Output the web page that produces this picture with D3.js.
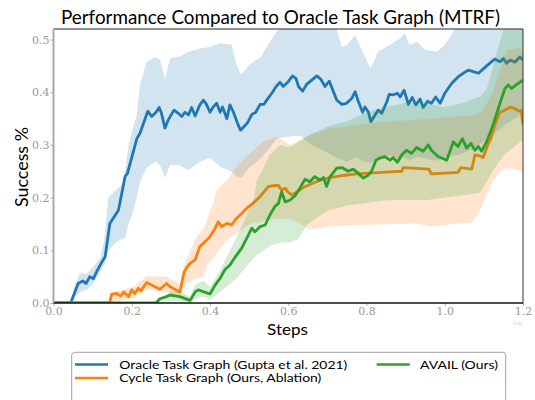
<!DOCTYPE html>
<html>
<head>
<meta charset="utf-8">
<script src="https://d3js.org/d3.v7.min.js"></script>
<style>
	body { margin: 0; background: #fff; }
	svg { display: block; }
</style>
</head>
<body>
<script>

/* values: x in steps (x1e6), y success rate */
const xTicks = [0.0, 0.2, 0.4, 0.6, 0.8, 1.0, 1.2];
const yTicks = [0.0, 0.1, 0.2, 0.3, 0.4, 0.5];

const seriesNames = ["Oracle Task Graph (Gupta et al. 2021)", "Cycle Task Graph (Ours, Ablation)", "AVAIL (Ours)"];
const seriesColors = ["#1f77b4", "#ff7f0e", "#2ca02c"];

// [x, mean]
const oracleMean = [[0,0],[0.044,0],[0.063,0.037],[0.075,0.042],[0.083,0.037],[0.093,0.050],[0.102,0.046],[0.110,0.059],[0.123,0.077],[0.132,0.088],[0.144,0.151],[0.166,0.176],[0.183,0.240],[0.189,0.246],[0.213,0.312],[0.221,0.322],[0.241,0.364],[0.251,0.354],[0.262,0.362],[0.270,0.371],[0.276,0.360],[0.285,0.332],[0.293,0.347],[0.308,0.366],[0.319,0.360],[0.328,0.354],[0.336,0.362],[0.345,0.357],[0.353,0.371],[0.362,0.355],[0.374,0.376],[0.383,0.385],[0.391,0.377],[0.400,0.362],[0.408,0.372],[0.417,0.379],[0.426,0.362],[0.432,0.372],[0.443,0.350],[0.451,0.376],[0.460,0.362],[0.472,0.338],[0.478,0.328],[0.487,0.335],[0.495,0.341],[0.507,0.358],[0.517,0.362],[0.528,0.377],[0.538,0.377],[0.545,0.385],[0.558,0.398],[0.569,0.411],[0.579,0.419],[0.587,0.411],[0.600,0.420],[0.611,0.431],[0.620,0.426],[0.626,0.411],[0.637,0.402],[0.647,0.415],[0.660,0.423],[0.673,0.431],[0.683,0.425],[0.694,0.411],[0.705,0.421],[0.714,0.404],[0.724,0.385],[0.737,0.377],[0.749,0.379],[0.762,0.388],[0.771,0.401],[0.779,0.383],[0.790,0.362],[0.796,0.372],[0.805,0.362],[0.811,0.344],[0.822,0.357],[0.830,0.366],[0.839,0.360],[0.852,0.382],[0.858,0.396],[0.868,0.395],[0.879,0.398],[0.886,0.391],[0.896,0.404],[0.907,0.377],[0.917,0.390],[0.926,0.376],[0.937,0.387],[0.945,0.371],[0.956,0.383],[0.966,0.379],[0.977,0.391],[0.988,0.379],[1.000,0.398],[1.018,0.417],[1.034,0.429],[1.047,0.436],[1.060,0.442],[1.073,0.439],[1.086,0.436],[1.107,0.450],[1.128,0.463],[1.141,0.458],[1.150,0.464],[1.158,0.455],[1.167,0.461],[1.179,0.457],[1.192,0.467],[1.200,0.461]];

const cycleMean = [[0,0],[0.143,0],[0.149,0.017],[0.161,0.018],[0.172,0.013],[0.180,0.021],[0.192,0.012],[0.200,0.025],[0.208,0.018],[0.217,0.028],[0.223,0.023],[0.238,0.039],[0.272,0.026],[0.289,0.037],[0.298,0.031],[0.323,0.021],[0.334,0.059],[0.342,0.069],[0.349,0.075],[0.362,0.082],[0.374,0.107],[0.387,0.116],[0.400,0.126],[0.413,0.142],[0.421,0.154],[0.430,0.145],[0.443,0.151],[0.455,0.148],[0.468,0.161],[0.481,0.170],[0.494,0.180],[0.511,0.190],[0.528,0.202],[0.549,0.221],[0.566,0.223],[0.575,0.223],[0.583,0.214],[0.592,0.218],[0.600,0.210],[0.609,0.205],[0.622,0.211],[0.638,0.219],[0.655,0.225],[0.681,0.233],[0.707,0.238],[0.741,0.242],[0.775,0.245],[0.817,0.247],[0.860,0.249],[0.890,0.250],[0.894,0.257],[0.960,0.254],[0.965,0.245],[1.034,0.248],[1.041,0.257],[1.069,0.254],[1.077,0.281],[1.090,0.279],[1.098,0.276],[1.110,0.300],[1.118,0.312],[1.128,0.338],[1.141,0.362],[1.154,0.366],[1.167,0.372],[1.179,0.369],[1.190,0.364],[1.195,0.366],[1.200,0.338]];

const availMean = [[0,0],[0.262,0],[0.272,0.008],[0.289,0.012],[0.298,0.015],[0.323,0.012],[0.349,0.005],[0.362,0.021],[0.370,0.025],[0.400,0.017],[0.413,0.034],[0.426,0.047],[0.438,0.063],[0.451,0.072],[0.468,0.091],[0.481,0.104],[0.494,0.123],[0.507,0.142],[0.515,0.135],[0.528,0.145],[0.541,0.148],[0.553,0.167],[0.566,0.183],[0.575,0.189],[0.583,0.211],[0.592,0.192],[0.604,0.195],[0.617,0.203],[0.630,0.218],[0.643,0.235],[0.655,0.230],[0.668,0.240],[0.681,0.233],[0.690,0.238],[0.698,0.221],[0.707,0.240],[0.724,0.256],[0.737,0.257],[0.753,0.250],[0.766,0.254],[0.779,0.246],[0.792,0.237],[0.805,0.243],[0.813,0.250],[0.824,0.271],[0.834,0.275],[0.847,0.278],[0.860,0.271],[0.868,0.276],[0.879,0.267],[0.890,0.281],[0.902,0.290],[0.915,0.284],[0.928,0.295],[0.945,0.288],[0.958,0.300],[0.966,0.290],[0.983,0.278],[1.005,0.271],[1.022,0.306],[1.034,0.297],[1.045,0.312],[1.056,0.294],[1.067,0.303],[1.077,0.290],[1.086,0.297],[1.094,0.288],[1.107,0.306],[1.120,0.331],[1.133,0.360],[1.145,0.388],[1.154,0.407],[1.162,0.414],[1.171,0.407],[1.184,0.415],[1.192,0.419],[1.200,0.423]];

// [x, lower, upper] shaded spread
const oracleBand = [[0.044,0,0],[0.055,0.012,0.035],[0.068,0.021,0.057],[0.085,0.025,0.055],[0.100,0.035,0.068],[0.120,0.060,0.085],[0.130,0.072,0.123],[0.140,0.100,0.200],[0.160,0.115,0.215],[0.172,0.120,0.222],[0.183,0.123,0.249],[0.192,0.150,0.300],[0.202,0.170,0.330],[0.213,0.200,0.357],[0.221,0.230,0.414],[0.238,0.256,0.458],[0.260,0.268,0.467],[0.272,0.262,0.462],[0.285,0.237,0.426],[0.298,0.262,0.465],[0.320,0.262,0.467],[0.345,0.252,0.477],[0.374,0.268,0.483],[0.400,0.275,0.486],[0.426,0.259,0.493],[0.455,0.249,0.490],[0.468,0.240,0.452],[0.480,0.237,0.433],[0.500,0.256,0.452],[0.530,0.275,0.467],[0.553,0.294,0.496],[0.570,0.312,0.515],[0.605,0.316,0.535],[0.630,0.318,0.550],[0.660,0.300,0.550],[0.700,0.285,0.545],[0.724,0.275,0.518],[0.737,0.272,0.486],[0.750,0.268,0.490],[0.771,0.276,0.508],[0.790,0.270,0.477],[0.810,0.265,0.445],[0.830,0.277,0.477],[0.860,0.280,0.490],[0.886,0.272,0.502],[0.898,0.276,0.512],[0.910,0.270,0.490],[0.930,0.278,0.496],[0.950,0.274,0.480],[0.980,0.270,0.477],[1.000,0.276,0.490],[1.020,0.280,0.512],[1.040,0.282,0.540],[1.070,0.292,0.550],[1.107,0.310,0.555],[1.158,0.340,0.560],[1.200,0.360,0.560]];

const cycleBand = [[0.143,0,0.010],[0.150,0,0.020],[0.204,0.010,0.031],[0.238,0.026,0.051],[0.289,0.021,0.050],[0.323,0.010,0.037],[0.334,0.030,0.070],[0.340,0.037,0.082],[0.366,0.047,0.126],[0.383,0.050,0.140],[0.392,0.070,0.158],[0.408,0.085,0.190],[0.417,0.094,0.214],[0.443,0.120,0.233],[0.468,0.132,0.259],[0.502,0.150,0.284],[0.536,0.155,0.306],[0.570,0.160,0.316],[0.604,0.160,0.300],[0.630,0.150,0.309],[0.655,0.139,0.318],[0.707,0.145,0.331],[0.775,0.148,0.338],[0.834,0.149,0.344],[0.930,0.151,0.348],[0.962,0.145,0.350],[1.070,0.153,0.356],[1.082,0.164,0.358],[1.095,0.185,0.365],[1.124,0.233,0.400],[1.141,0.250,0.440],[1.158,0.256,0.480],[1.190,0.252,0.484],[1.200,0.249,0.480]];

const availBand = [[0.262,0,0.004],[0.300,0.004,0.022],[0.323,0.003,0.022],[0.349,0,0.012],[0.362,0.008,0.035],[0.383,0.012,0.042],[0.400,0.006,0.030],[0.426,0.021,0.062],[0.468,0.047,0.125],[0.494,0.070,0.167],[0.511,0.085,0.195],[0.519,0.090,0.230],[0.553,0.108,0.281],[0.579,0.115,0.300],[0.604,0.115,0.295],[0.626,0.122,0.305],[0.650,0.150,0.318],[0.700,0.175,0.335],[0.750,0.185,0.345],[0.800,0.190,0.362],[0.850,0.195,0.372],[0.900,0.195,0.380],[0.950,0.195,0.378],[1.000,0.200,0.372],[1.050,0.205,0.380],[1.090,0.209,0.392],[1.107,0.230,0.405],[1.124,0.252,0.450],[1.150,0.280,0.520],[1.200,0.310,0.560]];


const WIDTH = 535, HEIGHT = 400;
const plot = { left: 53.5, right: 523, top: 29, bottom: 303 };
const SANS = "Lato, 'DejaVu Sans', sans-serif";
const SERIF = "'DejaVu Serif', serif";

const svg = d3.select('body').append('svg')
	.attr('width', WIDTH)
	.attr('height', HEIGHT)
	.attr('viewBox', `0 0 ${WIDTH} ${HEIGHT}`);

/* scales */
const x = d3.scaleLinear().domain([0, 1.2]).range([plot.left, plot.right]);
const y = d3.scaleLinear().domain([0, 0.52]).range([plot.bottom, plot.top]);

svg.append('clipPath').attr('id', 'plotClip')
	.append('rect')
	.attr('x', plot.left).attr('y', plot.top)
	.attr('width', plot.right - plot.left)
	.attr('height', plot.bottom - plot.top);

const series = [
	{ mean: oracleMean, band: oracleBand },
	{ mean: cycleMean, band: cycleBand },
	{ mean: availMean, band: availBand }
];

const area = d3.area()
	.x(d => x(d[0]))
	.y0(d => y(d[1]))
	.y1(d => y(d[2]));

const line = d3.line()
	.x(d => x(d[0]))
	.y(d => y(d[1]));

const marks = svg.append('g').attr('clip-path', 'url(#plotClip)');

// band then line, one series after the other (matplotlib call order)
series.forEach((s, i) => {
	marks.append('path')
		.attr('d', area(s.band))
		.attr('fill', seriesColors[i])
		.attr('fill-opacity', 0.2);
	marks.append('path')
		.attr('d', line(s.mean))
		.attr('fill', 'none')
		.attr('stroke', seriesColors[i])
		.attr('stroke-width', 2.8)
		.attr('stroke-linejoin', 'round');
});

/* axes */
const yAxis = svg.append('g')
	.attr('transform', `translate(${plot.left},0)`)
	.call(d3.axisLeft(y).tickValues(yTicks).tickFormat(d3.format('.1f')).tickSize(3).tickPadding(1));

const xAxis = svg.append('g')
	.attr('transform', `translate(0,${plot.bottom})`)
	.call(d3.axisBottom(x).tickValues(xTicks).tickFormat(d3.format('.1f')).tickSize(3).tickPadding(1));

[xAxis, yAxis].forEach(ax => {
	ax.select('.domain').remove();
	ax.selectAll('line').attr('stroke', '#aaa');
	ax.selectAll('text')
		.attr('fill', '#999')
		.style('font-family', SERIF)
		.style('font-size', '11px');
});

/* spines */
const spines = svg.append('g');
spines.append('line')
	.attr('x1', plot.left).attr('x2', plot.right)
	.attr('y1', plot.top).attr('y2', plot.top)
	.attr('stroke', '#222').attr('stroke-width', 1);
spines.append('line')
	.attr('x1', plot.right).attr('x2', plot.right)
	.attr('y1', plot.top).attr('y2', plot.bottom)
	.attr('stroke', '#333').attr('stroke-width', 1);
spines.append('line')
	.attr('x1', plot.left).attr('x2', plot.right)
	.attr('y1', plot.bottom).attr('y2', plot.bottom)
	.attr('stroke', '#111').attr('stroke-width', 1.3);
spines.append('line')
	.attr('x1', plot.left).attr('x2', plot.left)
	.attr('y1', plot.top).attr('y2', plot.bottom)
	.attr('stroke', '#aaa').attr('stroke-width', 2);

/* offset label of the x axis */
svg.append('text')
	.attr('x', 522).attr('y', 325)
	.attr('text-anchor', 'end')
	.attr('fill', '#ccc')
	.style('font-family', SERIF)
	.style('font-size', '5px')
	.text('1e6');

/* titles */
svg.append('text')
	.attr('x', 280.5).attr('y', 24)
	.attr('text-anchor', 'middle')
	.attr('textLength', 439).attr('lengthAdjust', 'spacingAndGlyphs')
	.style('font-family', SANS).style('font-size', '19px')
	.attr('fill', '#000')
	.text('Performance Compared to Oracle Task Graph (MTRF)');

svg.append('text')
	.attr('x', 287.5).attr('y', 334.5)
	.attr('text-anchor', 'middle')
	.attr('textLength', 41).attr('lengthAdjust', 'spacingAndGlyphs')
	.style('font-family', SANS).style('font-size', '16px')
	.text('Steps');

svg.append('text')
	.attr('transform', 'translate(28,167) rotate(-90)')
	.attr('text-anchor', 'middle')
	.attr('textLength', 80).attr('lengthAdjust', 'spacingAndGlyphs')
	.style('font-family', SANS).style('font-size', '17px')
	.text('Success %');

/* legend */
const legend = svg.append('g');
legend.append('rect')
	.attr('x', 71.7).attr('y', 352.3)
	.attr('width', 434).attr('height', 60)
	.attr('rx', 3)
	.attr('fill', '#fff')
	.attr('stroke', '#888')
	.attr('stroke-width', 0.8);

const legendPos = [
	{ lx: 75, ly: 364.5, tx: 119.3, tw: 228 },
	{ lx: 75, ly: 378, tx: 119.3, tw: 202 },
	{ lx: 376.7, ly: 364.5, tx: 420, tw: 78 }
];

const legendItems = legend.selectAll('g')
	.data(seriesNames)
	.enter().append('g');

legendItems.append('line')
	.attr('x1', (d, i) => legendPos[i].lx)
	.attr('x2', (d, i) => legendPos[i].lx + 33)
	.attr('y1', (d, i) => legendPos[i].ly)
	.attr('y2', (d, i) => legendPos[i].ly)
	.attr('stroke', (d, i) => seriesColors[i])
	.attr('stroke-width', 2.6);

legendItems.append('text')
	.attr('x', (d, i) => legendPos[i].tx)
	.attr('y', (d, i) => legendPos[i].ly + 4)
	.attr('textLength', (d, i) => legendPos[i].tw)
	.attr('lengthAdjust', 'spacingAndGlyphs')
	.style('font-family', SANS).style('font-size', '11px')
	.text(d => d);

</script>
</body>
</html>
